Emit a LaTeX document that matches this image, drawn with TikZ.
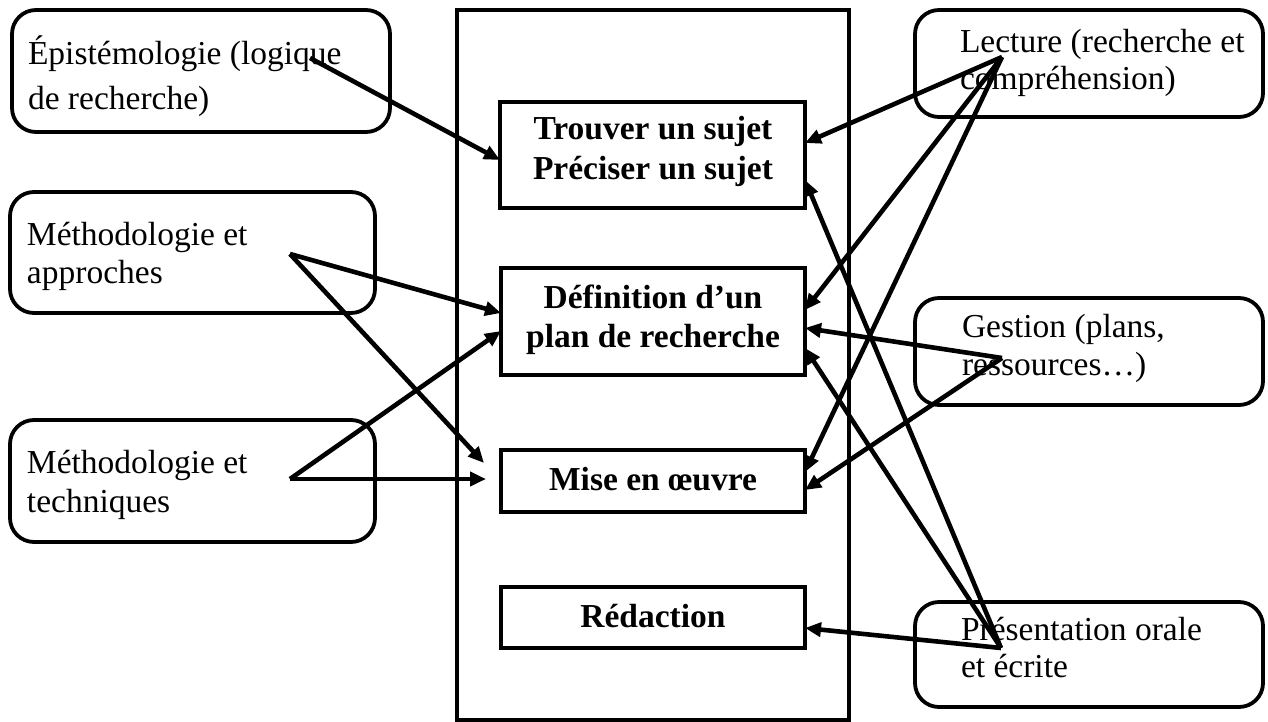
\documentclass[tikz,border=0pt]{standalone}
\usepackage{fontspec}
\setmainfont{Liberation Serif}
\usetikzlibrary{arrows.meta}
\tikzset{
  rbox/.style={draw, line width=3.8pt, rounded corners=24pt, inner sep=0pt, outer sep=0pt},
  cbox/.style={draw, line width=3.2pt, inner sep=0pt, outer sep=0pt},
  fbox/.style={draw, line width=3.8pt, inner sep=0pt, outer sep=0pt},
  txt/.style={inner sep=0pt, outer sep=0pt, font=\fontsize{33.5}{38}\selectfont, anchor=base west},
  btxt/.style={inner sep=0pt, outer sep=0pt, font=\fontsize{33.5}{38}\selectfont\bfseries, anchor=base},
  arr/.style={line width=4.6pt, -{Triangle[length=16pt,width=14pt]}}
}
\begin{document}
\begin{tikzpicture}[x=1pt,y=-1pt]
\useasboundingbox (0,0) rectangle (1268,722);
% frame
\node[fbox, minimum width=392, minimum height=710] (frame) at (653,365) {};
% left boxes
\node[rbox, minimum width=378, minimum height=122] (ep) at (201,71) {};
\node[txt] (ep1) at (28,65) {Épistémologie (logique};
\node[txt] (ep2) at (28,110) {de recherche)};
\node[rbox, minimum width=365, minimum height=121] (app) at (192.5,252.5) {};
\node[txt] (app1) at (27,245) {Méthodologie et};
\node[txt] (app2) at (27,283) {approches};
\node[rbox, minimum width=365, minimum height=122] (tech) at (192.5,481) {};
\node[txt] (tech1) at (27,473) {Méthodologie et};
\node[txt] (tech2) at (27,512) {techniques};
% right boxes
\node[rbox, minimum width=348, minimum height=107] (lec) at (1089,63.5) {};
\node[txt] (lec1) at (960,53) {Lecture (recherche et};
\node[txt] (lec2) at (960,90) {compréhension)};
\node[rbox, minimum width=348, minimum height=107] (ges) at (1089,351.5) {};
\node[txt] (ges1) at (962,337) {Gestion (plans,};
\node[txt] (ges2) at (962,375) {ressources…)};
\node[rbox, minimum width=348, minimum height=105] (pre) at (1089,654.5) {};
\node[txt] (pre1) at (961,640) {Présentation orale};
\node[txt] (pre2) at (961,677) {et écrite};
% centre boxes
\node[cbox, minimum width=305, minimum height=106] (tro) at (652.5,155) {};
\node[btxt] (tro1) at (653,140) {Trouver un sujet};
\node[btxt] (tro2) at (653,180) {Préciser un sujet};
\node[cbox, minimum width=304, minimum height=107] (def) at (653,321.5) {};
\node[btxt] (def1) at (653,308) {Définition d’un};
\node[btxt] (def2) at (653,347) {plan de recherche};
\node[cbox, minimum width=304, minimum height=62] (mis) at (653,481) {};
\node[btxt] (mis1) at (653,490) {Mise en œuvre};
\node[cbox, minimum width=304, minimum height=61] (red) at (653,617.5) {};
\node[btxt] (red1) at (653,627) {Rédaction};
% origins
\coordinate (oEp) at (310,58);
\coordinate (oApp) at (290,254);
\coordinate (oTech) at (290,479);
\coordinate (oLec) at (1002,57);
\coordinate (oGes) at (1002,358);
\coordinate (oPre) at (1001,648);
\coordinate (tMis1) at (484,463);
\coordinate (tMis2) at (486,479);
% arrows
\draw[arr] (oEp) -- (tro.west |- 0,160);
\draw[arr] (oApp) -- (def.west |- 0,313);
\draw[arr] (oApp) -- (tMis1);
\draw[arr] (oTech) -- (def.west |- 0,331);
\draw[arr] (oTech) -- (tMis2);
\draw[arr] (oLec) -- (tro.east |- 0,143);
\draw[arr] (oLec) -- (def.east |- 0,310);
\draw[arr] (oLec) -- (mis.east |- 0,472);
\draw[arr] (oGes) -- (def.east |- 0,328);
\draw[arr] (oGes) -- (mis.east |- 0,490);
\draw[arr] (oPre) -- (tro.east |- 0,180);
\draw[arr] (oPre) -- (def.east |- 0,348);
\draw[arr] (oPre) -- (red.east |- 0,628);
\end{tikzpicture}
\end{document}
